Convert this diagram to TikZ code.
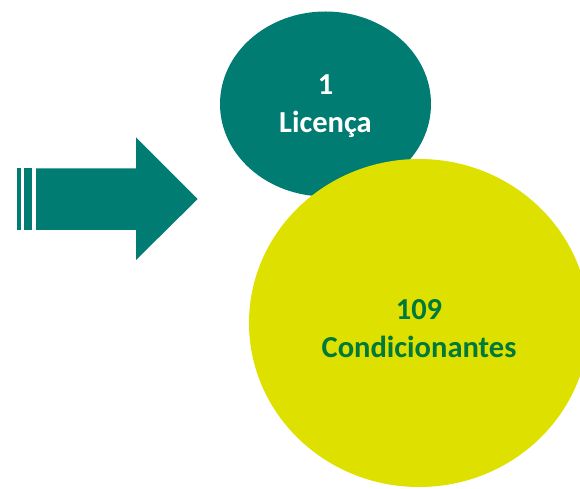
\documentclass[tikz,border=0pt]{standalone}
\usepackage{fontspec}
\setmainfont{Carlito}
\usetikzlibrary{shapes.geometric}
\definecolor{tealc}{HTML}{007C73}
\definecolor{yellowc}{HTML}{DEE000}
\definecolor{greentext}{HTML}{00793A}
\tikzset{
  blob/.style={ellipse, inner sep=0pt, draw=none},
  label/.style={align=center, font=\bfseries\fontsize{30.5}{38}\selectfont, inner sep=0pt}
}
\begin{document}
\begin{tikzpicture}[x=1pt,y=1pt]
\useasboundingbox (0,0) rectangle (580,489);
\clip (0,0) rectangle (580,489);
% arrow
\fill[tealc] (16.7,259) rectangle (20.7,320.7);
\fill[tealc] (24.3,259) rectangle (32.3,320.7);
\fill[tealc] (36,259) -- (136,259) -- (136,229) -- (197.7,290) -- (136,351.7) -- (136,320.7) -- (36,320.7) -- cycle;
% circles
\node[blob, fill=tealc, minimum width=211pt, minimum height=185pt] (lic) at (325.5,385) {};
\node[blob, fill=yellowc, minimum width=340pt, minimum height=328pt] (cond) at (419,166) {};
\node[label, text=white] (lictext) at (325.5,383) {1\\Licença};
\node[label, text=greentext] (condtext) at (419,160) {109\\Condicionantes};
\end{tikzpicture}
\end{document}
